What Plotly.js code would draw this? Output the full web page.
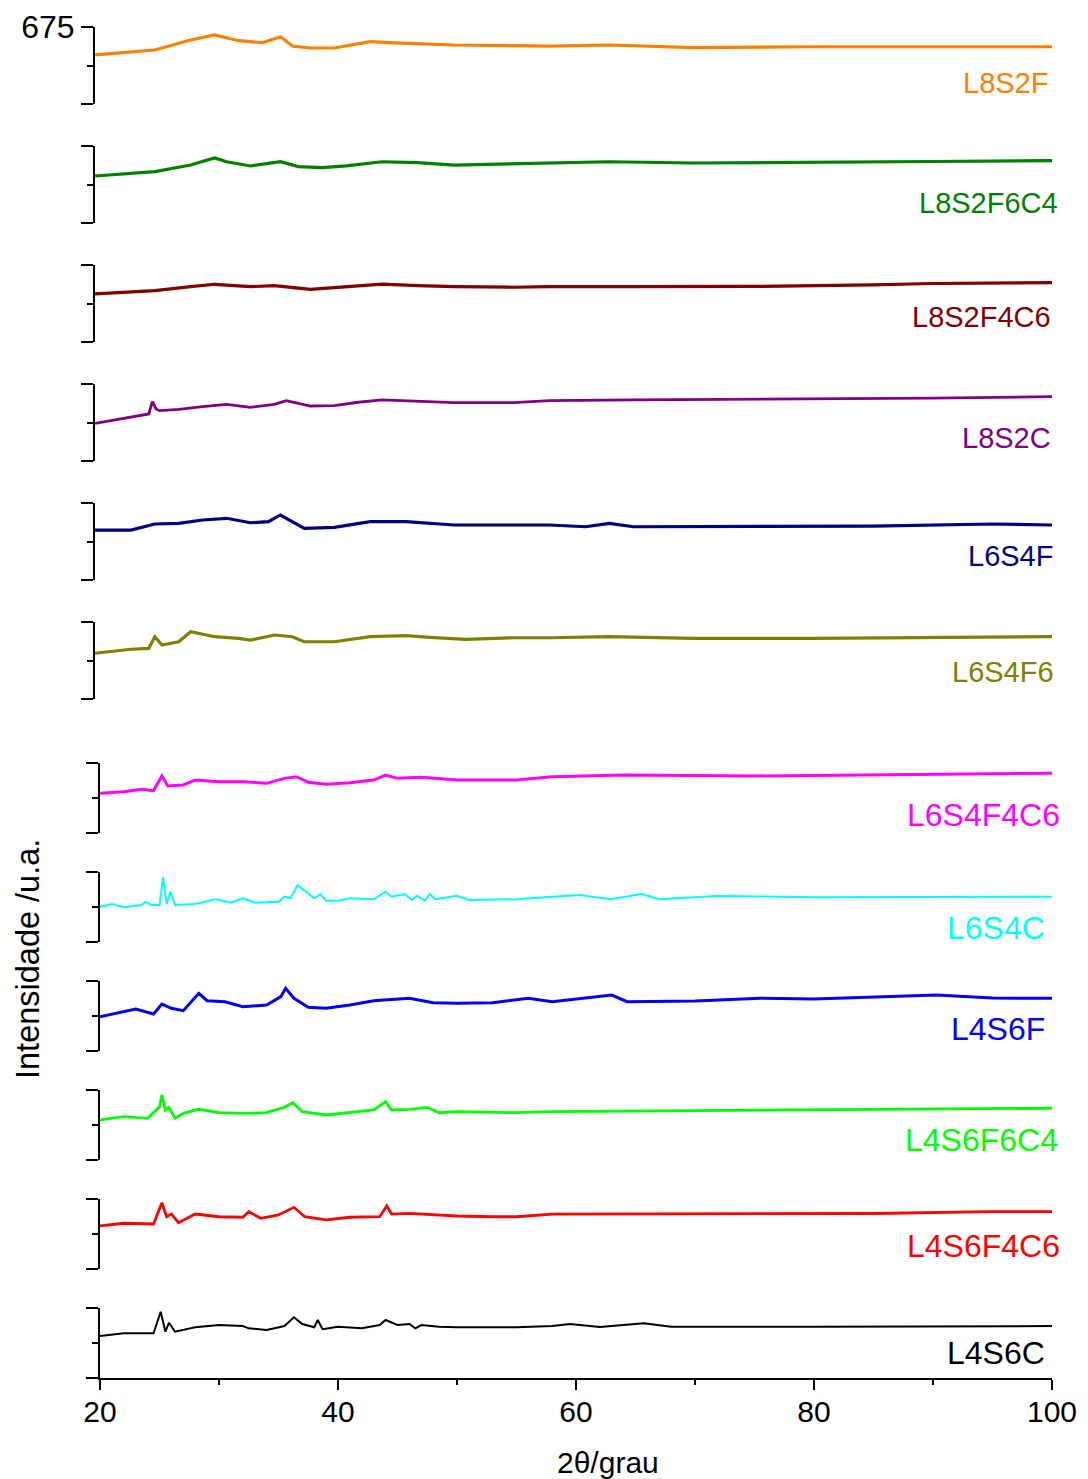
<!DOCTYPE html>
<html>
<head>
<meta charset="utf-8">
<script src="https://cdn.plot.ly/plotly-3.0.1.min.js"></script>
<style>html,body{margin:0;padding:0;background:#fff;}#chart{width:1088px;height:1479px;}</style>
</head>
<body>
<div id="chart"></div>
<script>
// ---- data (2θ in degrees, intensity in arbitrary units, each panel 0..675) ----
const x_L8S2F = [20,25,28,30,32,34,35.5,36.5,38,40,43,45,50,55,58,63,70,80,90,100];
const y_L8S2F = [430,473,561,605,555,537,590,508,491,491,546,535,517,508,508,517,495,502,502,502];

const x_L8S2F6C4 = [20,25,28,30,31,33,35.5,37,39,41,44,47,50,55,58,63,70,80,90,100];
const y_L8S2F6C4 = [412,450,508,570,537,500,537,494,485,500,537,529,508,517,523,537,526,535,539,546];

const x_L8S2F4C6 = [20,25,28,30,33,35,38,41,44,47,50,55,58,65,75,85,90,100];
const y_L8S2F4C6 = [421,450,485,506,485,494,462,485,508,494,485,480,485,485,487,500,513,520];

const x_L8S2C = [20,22,24,24.5,24.8,25.1,25.4,27,29,31,33,35,36,38,40,42,44,47,50,55,58,65,80,90,100];
const y_L8S2C = [330,366,403,412,520,456,441,453,476,497,471,497,529,482,485,515,535,520,511,511,529,535,544,552,564];

const x_L6S4F = [20,23,25,27,29,31,33,34.5,35.5,36.5,37.5,40,43,46,50,55,58,61,63,65,75,85,95,100];
const y_L6S4F = [438,438,491,497,526,541,502,511,570,511,453,462,511,511,482,482,482,467,497,467,467,473,491,482];

const x_L6S4F6 = [20,23,24.5,25,25.6,27,28,30,32,33,35,36.5,37.5,40,43,46,48,51,55,58,63,70,80,90,100];
const y_L6S4F6 = [401,436,444,546,473,502,590,546,532,517,561,546,502,502,546,555,541,523,537,537,546,532,532,539,546];

const x_L6S4F4C6 = [20,22,23.5,24.5,25.2,25.7,27,28,30,32,34,35.5,36.5,37.5,39,41,43,44,45,47,50,53,55,58,64,75,90,100];
const y_L6S4F4C6 = [383,398,421,408,550,453,463,511,495,495,479,527,543,489,470,485,511,559,527,537,511,511,511,543,559,550,564,576];

const x_L6S4C = [20,21,22,23.5,23.8,24.3,25.0,25.3,25.6,25.9,26.3,28,29.7,31,32,33,35,35.5,36,36.6,37.3,38,38.5,39,40,41,43,44,44.5,45.6,46.2,46.6,47.3,47.7,48.2,50,51,55,58,60.3,62.9,65.5,67,71.8,80,90,100];
const y_L6S4C = [340,366,335,357,389,357,357,624,366,485,357,366,412,379,421,379,389,437,421,550,485,421,463,398,398,421,412,485,437,463,405,446,398,463,412,446,405,412,437,453,412,463,412,444,431,431,437];

const x_L4S6F = [20,22,23,24.5,25.2,26,27,28.3,29,30.5,32,34,35.2,35.6,36.3,37.5,39,41,43,46,48,50,53,56,58,63,64.3,70,75.5,80,90.3,95,100];
const y_L4S6F = [331,379,405,357,453,412,389,556,485,475,427,444,524,605,508,421,412,444,485,508,466,460,466,508,475,540,475,482,508,501,540,511,508];

const x_L4S6F6C4 = [20,22,24,25.0,25.2,25.5,25.8,26.3,27,28.3,30,32,34,35.5,36.2,37,39,41,43,44,44.5,46,47.5,48.5,50,55,58,70,85,100];
const y_L4S6F6C4 = [386,418,402,514,627,482,508,402,450,489,456,450,456,508,553,466,434,456,482,562,482,489,508,456,466,456,466,477,489,499];

const x_L4S6F4C6 = [20,22,24.5,25.2,25.6,26,26.6,28,30,32,32.5,33.5,35,36.3,37.2,39,41,43.5,44.1,44.5,46,48,50,53,55,58,70,85,95,100];
const y_L4S6F4C6 = [415,441,434,639,504,530,446,530,504,499,553,489,521,595,504,473,499,504,608,530,537,521,511,504,504,530,530,535,553,553];

const x_L4S6C = [20,22,24.5,25.1,25.5,25.8,26.3,28,30,32,32.5,34,35.5,36.3,37,38,38.3,38.7,40,42,43.5,44,45,46,46.5,47,48.5,50,55,58,59.5,62,65.7,68,80,90,100];
const y_L4S6C = [405,431,431,639,446,533,446,489,511,501,479,463,501,585,521,489,559,470,495,479,511,559,511,521,479,511,495,489,489,501,521,492,527,495,495,497,501];

const sampleNames = ["L8S2F","L8S2F6C4","L8S2F4C6","L8S2C","L6S4F","L6S4F6",
                     "L6S4F4C6","L6S4C","L4S6F","L4S6F6C4","L4S6F4C6","L4S6C"];
const sampleX = [x_L8S2F,x_L8S2F6C4,x_L8S2F4C6,x_L8S2C,x_L6S4F,x_L6S4F6,
                 x_L6S4F4C6,x_L6S4C,x_L4S6F,x_L4S6F6C4,x_L4S6F4C6,x_L4S6C];
const sampleY = [y_L8S2F,y_L8S2F6C4,y_L8S2F4C6,y_L8S2C,y_L6S4F,y_L6S4F6,
                 y_L6S4F4C6,y_L6S4C,y_L4S6F,y_L4S6F6C4,y_L4S6F4C6,y_L4S6C];
const xTickVals = [20,40,60,80,100];
const yTopLabel = "675";
const yMax = 675;

// ---- styling ----
const colors = ["#FF8000","#008000","#800000","#800080","#000080","#808000",
                "#FF00FF","#00FFFF","#0000FF","#00FF00","#FF0000","#000000"];
const lineW = [3.2,3.2,3.2,2.8,3.2,3.2,3,2,3,2.8,2.8,2];
const W = 1088, H = 1479;
// panel pixel geometry [top, bottom, left, right]
const panels = [];
for (let i = 0; i < 6; i++) panels.push([27 + 119*i, 104 + 119*i, 95, 1052]);
for (let i = 0; i < 6; i++) panels.push([763 + 109*i, 833 + 109*i, 100, 1052]);
// label positions [right edge px, vertical centre px, font size]
const labelPos = [[1050,82.5,29],[1060,202.5,29],[1053,317.5,29],[1053,438,29],[1055,556,29],[1056,672.5,29],
                  [1062,815,32],[1047,928,32],[1047,1029,32],[1060,1139.5,32],[1062,1246,32],[1047,1352.5,32]];

const FONT = "Liberation Sans, Arial, Helvetica, sans-serif";
const traces = [];
const layout = {
  width: W, height: H,
  margin: {l:0, r:0, t:0, b:0},
  paper_bgcolor: "#fff", plot_bgcolor: "rgba(0,0,0,0)",
  showlegend: false, hovermode: false,
  font: {family: FONT, size: 30, color: "#000"},
  annotations: []
};

for (let i = 0; i < 12; i++) {
  const n = i + 1;
  const xa = n === 1 ? "x" : "x" + n;
  const ya = n === 1 ? "y" : "y" + n;
  traces.push({
    type: "scatter", mode: "lines",
    x: sampleX[i], y: sampleY[i],
    xaxis: xa, yaxis: ya,
    line: {color: colors[i], width: lineW[i]},
    name: sampleNames[i]
  });
  const [top, bot, left, right] = panels[i];
  const isBottom = (i === 11);
  layout["xaxis" + (n === 1 ? "" : n)] = {
    domain: [left / W, right / W],
    range: [20, 100],
    anchor: ya,
    visible: isBottom,
    showgrid: false, zeroline: false,
    showline: true, linecolor: "#000", linewidth: 2,
    ticks: "outside", ticklen: 10, tickwidth: 2, tickcolor: "#000",
    tickmode: "array", tickvals: xTickVals,
    ticklabelstandoff: -4,
    minor: {tickmode: "array", tickvals: [30,50,70,90], ticks: "outside", ticklen: 5, tickwidth: 2, tickcolor: "#000", showgrid: false},
    tickfont: {family: FONT, size: 30, color: "#000"},
    fixedrange: true
  };
  layout["yaxis" + (n === 1 ? "" : n)] = {
    domain: [1 - bot / H, 1 - top / H],
    range: [0, yMax],
    anchor: xa,
    showgrid: false, zeroline: false,
    showline: true, linecolor: "#000", linewidth: 2,
    ticks: "outside", ticklen: 12, tickwidth: 2, tickcolor: "#000",
    tickmode: "array", tickvals: [0, yMax], ticktext: ["", i === 0 ? yTopLabel : ""],
    showticklabels: i === 0,
    minor: {tickmode: "array", tickvals: [yMax/2], ticks: "outside", ticklen: 6, tickwidth: 2, tickcolor: "#000", showgrid: false},
    tickfont: {family: FONT, size: 32, color: "#000"},
    fixedrange: true
  };
  layout.annotations.push({
    xref: "paper", yref: "paper",
    x: labelPos[i][0] / W, y: 1 - labelPos[i][1] / H,
    xanchor: "right", yanchor: "middle",
    text: sampleNames[i], showarrow: false,
    font: {family: FONT, size: labelPos[i][2], color: colors[i]}
  });
}

layout.annotations.push({
  xref: "paper", yref: "paper", x: 608 / W, y: 1 - 1462 / H,
  xanchor: "center", yanchor: "middle", showarrow: false,
  text: "2θ/grau", font: {family: FONT, size: 30, color: "#000"}
});
layout.annotations.push({
  xref: "paper", yref: "paper", x: 28 / W, y: 1 - 959 / H,
  xanchor: "center", yanchor: "middle", showarrow: false, textangle: -90,
  text: "Intensidade /u.a.", font: {family: FONT, size: 32.5, color: "#000"}
});

Plotly.newPlot("chart", traces, layout, {staticPlot: true, displayModeBar: false});
</script>
</body>
</html>
